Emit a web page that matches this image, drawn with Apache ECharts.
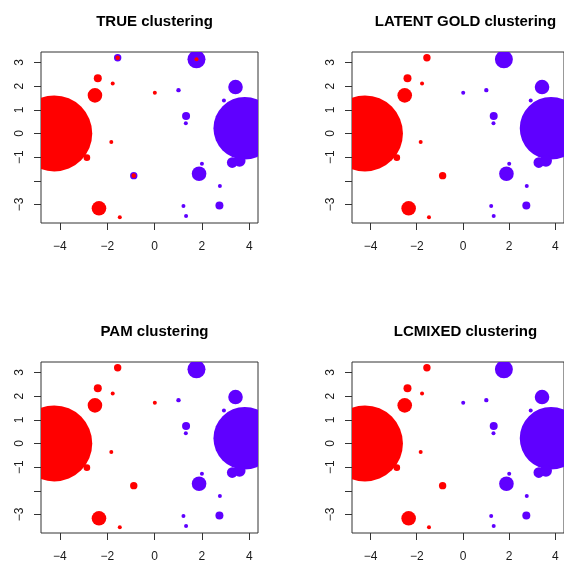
<!DOCTYPE html>
<html>
<head>
<meta charset="utf-8">
<script src="https://cdn.jsdelivr.net/npm/echarts@6/dist/echarts.min.js"></script>
<style>
  html, body { margin: 0; padding: 0; background: #fff; }
  #chart { width: 564px; height: 564px; }
</style>
</head>
<body>
<div id="chart"></div>
<script>
// Point coordinates of the response patterns (two-dimensional projection)
const xs = [-4.24, -2.86, -2.40, -2.52, -1.77, -1.83, 0.01, -2.35, -1.47,
            -1.56, -0.88, 1.77, 1.01, 3.42, 2.93, 1.33, 1.32, 3.81,
            3.28, 3.59, 2.00, 1.88, 2.76, 2.74, 1.22, 1.33,
            -1.56, -0.88, 1.77];
const ys = [0.00, -1.02, 2.33, 1.61, 2.11, -0.36, 1.72, -3.16, -3.54,
            3.20, -1.78, 3.13, 1.83, 1.96, 1.39, 0.74, 0.43, 0.22,
            -1.23, -1.15, -1.28, -1.70, -2.22, -3.04, -3.06, -3.48,
            3.20, -1.78, 3.13];
// Relative bubble weight of each pattern
const weight = [19, 1.65, 2, 3.65, 1, 1, 1, 3.65, 1,
                1.85, 1.85, 4.5, 1.1, 3.65, 1, 2, 1, 15.65,
                2.65, 3, 1, 3.65, 1, 2, 1, 1,
                1.15, 1.15, 1];

// Cluster memberships (1 = first cluster, 2 = second cluster)
const clusterTrue =        [1,1,1,1,1,1,1,1,1, 2,2,2,2,2,2,2,2,2, 2,2,2,2,2,2,2,2, 1,1,1];
const clusterLatentGold =  [1,1,1,1,1,1,2,1,1, 1,1,2,2,2,2,2,2,2, 2,2,2,2,2,2,2,2, 1,1,2];
const clusterPam =         [1,1,1,1,1,1,1,1,1, 1,1,2,2,2,2,2,2,2, 2,2,2,2,2,2,2,2, 1,1,2];
const clusterLcmixed =     [1,1,1,1,1,1,2,1,1, 1,1,2,2,2,2,2,2,2, 2,2,2,2,2,2,2,2, 1,1,2];

const panelTitles = ['TRUE clustering', 'LATENT GOLD clustering', 'PAM clustering', 'LCMIXED clustering'];
const panelClusters = [clusterTrue, clusterLatentGold, clusterPam, clusterLcmixed];

const xTicks = [-4, -2, 0, 2, 4];
const yTicks = [-3, -2, -1, 0, 1, 2, 3];
const yTickLabels = [-3, -1, 0, 1, 2, 3];

const X_MIN = -4.80, X_MAX = 4.37;
const Y_MIN = -3.78, Y_MAX = 3.44;

const COLORS = { 1: '#FF0000', 2: '#5F00FF' };
const FONT = 'Liberation Sans, Arial, Helvetica, sans-serif';

const grids = [
  { left: 41,  top: 52,  width: 217, height: 171 },
  { left: 352, top: 52,  width: 217, height: 171 },
  { left: 41,  top: 362, width: 217, height: 171 },
  { left: 352, top: 362, width: 217, height: 171 }
];

const fmt = v => (v < 0 ? '\u2212' + Math.abs(v) : String(v));

const option = {
  animation: false,
  backgroundColor: '#ffffff',
  title: grids.map((g, i) => ({
    text: panelTitles[i],
    left: g.left + g.width / 2,
    top: g.top - 43,
    textAlign: 'center',
    textStyle: { fontFamily: FONT, fontWeight: 'bold', fontSize: 15, color: '#000' }
  })),
  grid: grids.map(g => Object.assign({
    show: true, borderColor: '#333', borderWidth: 1, backgroundColor: 'transparent',
    containLabel: false
  }, g)),
  xAxis: grids.map((g, i) => ({
    type: 'value', gridIndex: i, min: X_MIN, max: X_MAX, position: 'bottom',
    axisLine: { show: false, onZero: false },
    splitLine: { show: false },
    axisTick: { show: true, inside: false, length: 7, customValues: xTicks,
                lineStyle: { color: '#333', width: 1 } },
    axisLabel: { show: true, customValues: xTicks, margin: 18, formatter: fmt,
                 fontFamily: FONT, fontSize: 12, color: '#1a1a1a' }
  })),
  yAxis: grids.map((g, i) => ({
    type: 'value', gridIndex: i, min: Y_MIN, max: Y_MAX, position: 'left',
    axisLine: { show: false, onZero: false },
    splitLine: { show: false },
    axisTick: { show: true, inside: false, length: 7, customValues: yTicks,
                lineStyle: { color: '#333', width: 1 } },
    axisLabel: { show: true, customValues: yTickLabels, margin: 15, rotate: 90, formatter: fmt,
                 fontFamily: FONT, fontSize: 12, color: '#1a1a1a' }
  })),
  series: panelClusters.map((cl, i) => ({
    type: 'custom',
    xAxisIndex: i, yAxisIndex: i,
    clip: true,
    encode: { x: 0, y: 1 },
    data: xs.map((x, k) => [x, ys[k], weight[k], cl[k]]),
    renderItem: function (params, api) {
      const p = api.coord([api.value(0), api.value(1)]);
      return {
        type: 'circle',
        shape: { cx: p[0], cy: p[1], r: api.value(2) * 2 },
        style: { fill: COLORS[api.value(3)] }
      };
    }
  }))
};

const chart = echarts.init(document.getElementById('chart'), null, { renderer: 'canvas' });
chart.setOption(option);
</script>
</body>
</html>
